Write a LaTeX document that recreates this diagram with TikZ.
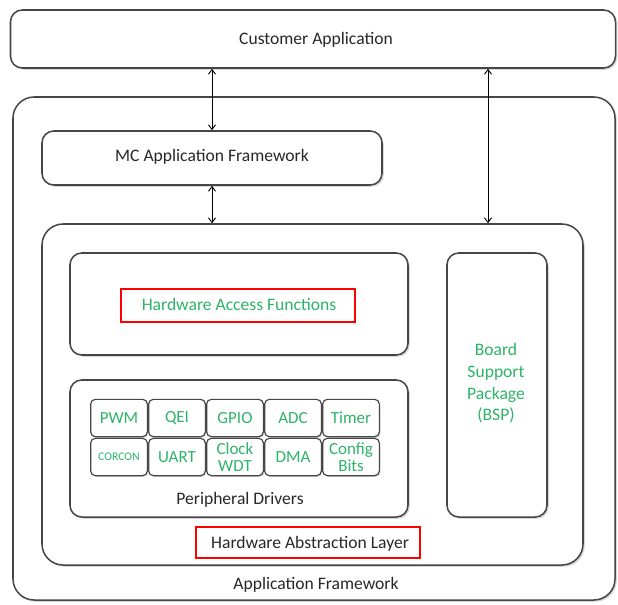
\documentclass[tikz,border=0pt]{standalone}
\usepackage{fontspec}
\setmainfont{Carlito}
\usepackage{xcolor}
\usepackage{tikz}
\usetikzlibrary{shapes,arrows,positioning,calc,shadows,arrows.meta}

\definecolor{edgegray}{RGB}{70,70,70}
\definecolor{txtgray}{RGB}{40,40,40}
\definecolor{halgreen}{RGB}{45,180,105}

\tikzset{
    layer/.style={draw=edgegray, line width=1.3pt, fill=white, rounded corners=10pt,
        drop shadow={shadow xshift=1.5pt, shadow yshift=-1.5pt, opacity=0.3}},
    cell/.style={draw=edgegray, line width=1pt, fill=white, rounded corners=4pt,
        minimum width=1.7cm, minimum height=1.12cm, inner sep=0pt, align=center,
        text=halgreen, font=\fontsize{14.5}{15}\selectfont,
        drop shadow={shadow xshift=1pt, shadow yshift=-1pt, opacity=0.3}},
    label/.style={text=txtgray, font=\fontsize{15}{17}\selectfont},
    hilite/.style={draw=red, line width=1.6pt, inner sep=0pt},
    link/.style={<->, >={Straight Barb[length=4pt,width=6pt]}, line width=0.8pt}
}

\begin{document}
\begin{tikzpicture}
    \useasboundingbox (0,0) rectangle (18.54,-18.12);

    % Customer Application
    \node [layer, minimum width=18.15cm, minimum height=1.74cm] (cust) at (9.39,-1.17) {};
    \node [label] (custtxt) at (9.48,-1.2) {Customer Application};

    % Application Framework
    \node [layer, rounded corners=18pt, minimum width=18.06cm, minimum height=15.09cm] (appfw) at (9.42,-10.455) {};
    \node [label] (appfwtxt) at (9.48,-17.55) {Application Framework};

    % MC Application Framework
    \node [layer, minimum width=10.2cm, minimum height=1.62cm] (mc) at (6.36,-4.74) {};
    \node [label] (mctxt) at (6.36,-4.71) {MC Application Framework};

    % Hardware Abstraction Layer
    \node [layer, rounded corners=18pt, minimum width=16.23cm, minimum height=10.23cm] (hal) at (9.375,-11.835) {};
    \node [hilite, minimum width=6.72cm, minimum height=0.93cm] (halbox) at (9.24,-16.275) {};
    \node [label] (haltxt) at (9.3,-16.3) {Hardware Abstraction Layer};

    % Hardware Access Functions
    \node [layer, minimum width=10.14cm, minimum height=3.06cm] (haf) at (7.17,-9.12) {};
    \node [hilite, minimum width=7.02cm, minimum height=0.99cm] (hafbox) at (7.14,-9.165) {};
    \node [label, text=halgreen] (haftxt) at (7.17,-9.12) {Hardware Access Functions};

    % Peripheral Drivers
    \node [layer, minimum width=10.14cm, minimum height=4.11cm] (periph) at (7.17,-13.455) {};
    \node [label] (periphtxt) at (7.2,-15.0) {Peripheral Drivers};
    \foreach \name/\txt [count=\i] in {pwm/PWM, qei/QEI, gpio/GPIO, adc/ADC, timer/Timer}
        \node [cell] (\name) at (1.83+1.74*\i,-12.54) {\txt};
    \foreach \name/\txt [count=\i] in {uart/UART, clk/Clock\\WDT, dma/DMA, cfg/Config\\Bits}
        \node [cell] (\name) at (3.57+1.74*\i,-13.71) {\txt};
    \node [cell, font=\fontsize{10}{11}\selectfont] (corcon) at (3.57,-13.71) {CORCON};

    % Board Support Package
    \node [layer, minimum width=3.0cm, minimum height=7.92cm] (bsp) at (14.91,-11.55) {};
    \node [label, text=halgreen, align=center, font=\fontsize{15}{18.5}\selectfont] (bsptxt) at (14.88,-11.5) {Board\\Support\\Package\\(BSP)};

    % links
    \coordinate (bsplink) at (14.64,0);
    \draw [link] (cust.south -| mc.north) -- (mc.north);
    \draw [link] (mc.south) -- (hal.north -| mc.south);
    \draw [link] (cust.south -| bsplink) -- (hal.north -| bsplink);
\end{tikzpicture}
\end{document}
